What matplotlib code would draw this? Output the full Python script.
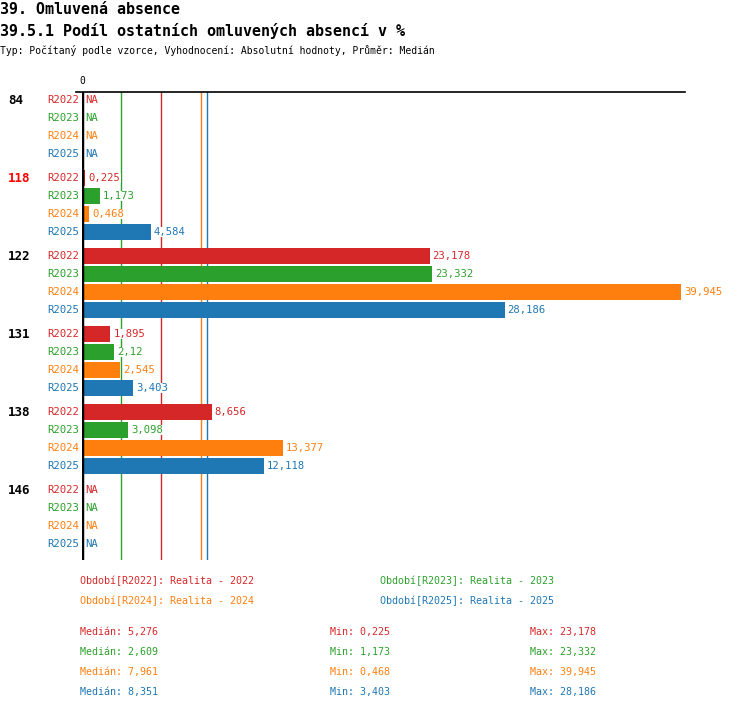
import numpy as np
import matplotlib
matplotlib.use('Agg')
import matplotlib.pyplot as plt

# data
groups = ['84', '118', '122', '131', '138', '146']
group_colors = ['black', '#ff0000', 'black', 'black', 'black', 'black']
series = ['R2022', 'R2023', 'R2024', 'R2025']
colors = ['#d62728', '#2ca02c', '#ff7f0e', '#1f77b4']
values = {
    'R2022': [None, 0.225, 23.178, 1.895, 8.656, None],
    'R2023': [None, 1.173, 23.332, 2.12, 3.098, None],
    'R2024': [None, 0.468, 39.945, 2.545, 13.377, None],
    'R2025': [None, 4.584, 28.186, 3.403, 12.118, None],
}
medians = [5.276, 2.609, 7.961, 8.351]
mins = [0.225, 1.173, 0.468, 3.403]
maxs = [23.178, 23.332, 39.945, 28.186]
legend_names = ['Realita - 2022', 'Realita - 2023', 'Realita - 2024', 'Realita - 2025']

W, H = 750, 710
mono = 'DejaVu Sans Mono'


def fmt(v):
    return f"{v:g}".replace('.', ',')


def ftext(x, y, s, **kw):
    # position in pixels from top-left
    fig.text(x / W, 1 - y / H, s, family=mono, **kw)


fig = plt.figure(figsize=(W / 100, H / 100), dpi=100)

ftext(0, 9, '39. Omluvená absence', fontsize=10.8, fontweight='bold', va='center')
ftext(0, 31, '39.5.1 Podíl ostatních omluvených absencí v %', fontsize=10.8, fontweight='bold', va='center')
ftext(0, 50, 'Typ: Počítaný podle vzorce, Vyhodnocení: Absolutní hodnoty, Průměr: Medián', fontsize=7, va='center')

top, bottom = 92, 560
ax = fig.add_axes([82 / W, 1 - bottom / H, (681 - 82) / W, (bottom - top) / H])
xmax = max(maxs)
ax.set_xlim(0, xmax)
ax.set_ylim(bottom, top)
ax.axis('off')

# median lines
for med, c in zip(medians, colors):
    ax.axvline(med, color=c, lw=1, zorder=1)
ax.axvline(0, color='black', lw=2.5, zorder=3)
ax.plot([-0.4, xmax + 0.3], [top, top], color='black', lw=1.2, clip_on=False, zorder=3)
ax.text(0, top - 6, '0', ha='center', va='bottom', fontsize=7, family=mono)

for g, (grp, gc) in enumerate(zip(groups, group_colors)):
    y0 = 100 + g * 78
    fig.text(8 / W, 1 - y0 / H, grp, family=mono, fontsize=9, fontweight='bold', color=gc, va='center')
    for r, (s, c) in enumerate(zip(series, colors)):
        y = y0 + r * 18
        ax.text(-0.2, y, s, ha='right', va='center', fontsize=7.7, color=c, family=mono)
        v = values[s][g]
        if v is None:
            ax.text(0.2, y, 'NA', ha='left', va='center', fontsize=7.7, color=c, family=mono)
        else:
            ax.barh(y, v, height=16, color=c, zorder=2)
            ax.text(v + 0.2, y, fmt(v), ha='left', va='center', fontsize=7.6, color=c,
                    family=mono, zorder=4, clip_on=False,
                    bbox=dict(facecolor='white', edgecolor='none', pad=0.3))

# legend
leg_pos = [(80, 581), (380, 581), (80, 601), (380, 601)]
for (x, y), s, c, name in zip(leg_pos, series, colors, legend_names):
    ftext(x, y, f'Období[{s}]: {name}', fontsize=7.2, color=c, va='center')

for i, c in enumerate(colors):
    y = 632 + i * 20
    ftext(80, y, f'Medián: {fmt(medians[i])}', fontsize=7.2, color=c, va='center')
    ftext(330, y, f'Min: {fmt(mins[i])}', fontsize=7.2, color=c, va='center')
    ftext(530, y, f'Max: {fmt(maxs[i])}', fontsize=7.2, color=c, va='center')

fig.savefig('out.png', dpi=100)
